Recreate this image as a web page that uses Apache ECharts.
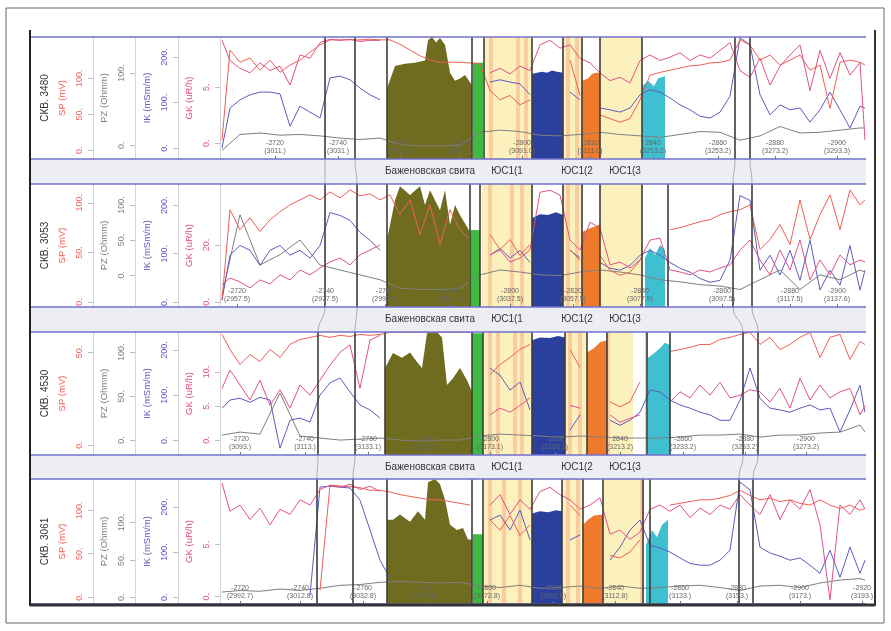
<!DOCTYPE html>
<html>
<head>
<meta charset="utf-8">
<script src="https://cdn.jsdelivr.net/npm/echarts@6/dist/echarts.min.js"></script>
<style>
html, body { margin: 0; padding: 0; background: #fff; }
#main { width: 891px; height: 631px; }
</style>
</head>
<body>
<div id="main"></div>
<script>
// wells, top to bottom
const wells = ['СКВ. 3480', 'СКВ. 3053', 'СКВ. 4530', 'СКВ. 3061'];

// sample positions along the correlation track (track units from the left edge)
const posFine = [2,10,20,30,40,50,60,70,80,90,100,110,120,130,140,150,160,170,180,190,200,210,220,230,240,250,260,270,280,290,300,310,320,330,340,350,360,370,380,390,400,410,420,430,440,450,460,470,480,490,500,510,520,530,540,550,560,570,580,590,600,610,620,630,640,645];
const posCoarse = [2,20,40,60,80,100,120,140,160,180,200,220,240,260,280,300,320,340,360,380,400,420,440,460,480,500,520,540,560,580,600,620,640,645];

// ---- СКВ. 3480
const gk3480 = [9.2,7.4,6.7,6.3,7.2,6.5,6.9,5.2,7.9,7.6,9.0,9.3,9.2,9.3,9.1,9.2,9.2,null,null,null,null,null,null,null,null,null,null,6.3,6.7,6.2,6.9,6.5,8.8,9.2,8.5,8.8,7.6,7.2,6.3,5.6,5.9,5.4,7.4,7.9,7.4,7.7,8.1,7.4,7.9,7.6,8.3,9.0,6.5,5.9,7.6,5.2,6.9,7.9,8.8,4.7,8.3,5.8,8.1,6.1,7.2,0.3];
const sp3480 = [14,139,122,128,111,125,108,118,125,136,146,153,153,153,153,154,153,153,147,139,131,125,122,122,122,121,120,83,70,76,63,70,null,null,null,125,76,null,49,44,39,44,70,104,108,111,114,117,118,121,122,125,153,146,125,132,118,125,132,111,118,58,122,125,122,118];
const ik3480 = [0,88,106,117,123,123,119,48,92,79,66,154,158,150,132,117,106,null,null,null,null,null,null,null,null,null,null,145,150,145,141,117,null,null,null,123,106,null,88,84,79,88,117,128,123,110,95,84,70,66,79,114,242,227,117,73,95,84,88,57,84,123,84,44,92,88];
const pz3480 = [-7,15,17,14,15,13,10,8,10,1,-1,-1,0,18,21,19,14,13,15,18,15,13,11,15,19,18,7,13,26,17,18,21,24,24];

// ---- СКВ. 3053
const gk3053 = [6,8.4,7,4.9,7.7,6.3,9.5,7.7,11.2,9.5,11.9,14,15.4,13,16.5,18.2,20,null,null,null,null,null,null,null,null,null,null,16.5,18.2,14,15.4,18.2,38.5,39.2,37.5,21.7,18.2,28,25.9,13,14,11.9,14.7,21.7,22.4,11.2,10.5,9.5,11.2,10.5,11.9,13,18.2,21.7,14.7,9.5,18.2,11.2,21.7,7.7,14.7,9.5,16.5,13,14.7,14];
const sp3053 = [2,93,73,85,71,83,91,98,103,108,103,111,105,113,107,109,103,108,88,103,68,98,58,93,73,63,null,68,53,63,47,58,null,null,null,53,42,null,47,32,27,30,42,null,null,73,75,78,81,83,88,91,93,98,53,63,78,58,103,63,88,108,73,113,98,103];
const ik3053 = [4,97,117,107,76,107,117,97,107,91,117,185,179,169,144,128,107,null,null,null,null,null,null,null,null,null,null,97,111,91,107,82,null,null,null,107,91,null,82,70,66,76,97,107,97,82,70,62,49,41,45,87,220,210,66,97,56,107,45,128,25,66,35,117,25,66];
const pz3053 = [-29,86,14,29,50,14,7,0,-7,-19,-21,-21,-19,0,7,4,0,-1,4,7,4,0,-7,-10,-14,-16,-21,-7,7,-21,0,-7,7,4];

// ---- СКВ. 4530
const gk4530 = [7.6,10.3,8.1,5.9,8.8,5.1,7.4,4.7,8.1,6.6,8.8,11,12.9,14,7.6,14.7,15.4,null,null,null,null,null,null,null,null,null,null,3.7,4.7,4.1,5.1,6.2,null,null,null,5.1,4.7,null,null,3.7,2.6,3.2,3.7,null,null,5.6,7.1,6.2,8.1,6.6,8.5,6.2,6.6,7.4,7.1,5.6,7.6,4.7,9.1,5.9,8.1,6.2,7.1,7.6,3.7,5.1];
const sp4530 = [59.4,51.3,43.2,48.6,44.8,51.3,47,54,56.7,57.8,58.9,57.8,58.9,58.3,59.4,58.9,59.4,60.5,60.5,60.5,60.5,60.5,60.5,60.5,60.5,60.5,null,37.8,43.2,47,51.3,54,null,null,null,51.3,41.6,null,null,23.2,20.5,23.2,34,null,null,50.2,51.3,52.4,54,54,56.7,57.8,59.4,60.5,54,57.8,51.3,54,57.8,60.5,47,57.8,59.4,45.9,55.6,54];
const ik4530 = [71,89,93,84,95,89,-18,44,49,40,100,127,138,107,78,67,49,null,null,null,null,null,null,null,null,null,null,160,144,111,129,67,null,null,null,22,56,null,null,44,33,44,62,111,107,89,78,71,62,56,44,44,89,160,93,71,67,62,71,78,67,71,18,67,122,62];
const pz4530 = [5.7,9.1,6.8,53.6,4.6,2.3,0,1.1,2.3,0,-1.1,0,0,4.6,6.8,5.7,4.6,3.4,4.6,3.4,2.3,2.3,2.3,3.4,5.7,5.7,6.8,3.4,5.7,5.7,8,9.1,17.1,9.1];

// ---- СКВ. 3061
const gk3061 = [10.9,8.2,8.8,7.4,8.5,6.9,8.4,7.9,9.3,8.8,10.3,10.7,10.5,10.8,10.3,10.6,10.1,null,null,null,null,null,null,null,null,null,null,8.8,9.8,7.9,9.3,8.4,10.1,10.5,9.8,9.3,8.4,8.8,9.5,6,6.4,5.5,6.2,8.4,8.8,8.2,8.8,7.6,8.5,7.9,8.8,8.4,9.8,8.8,7.9,9.8,7.4,9.3,8.4,10.3,6.9,-0.3,8.8,7.9,9.3,8.4];
const sp3061 = [null,null,null,null,null,null,null,null,null,null,8,129,128,127,126,123,123,121,118,116,114,112,112,110,108,106,null,89,77,94,71,83,null,null,null,106,94,null,null,48,45,52,66,null,null,106,108,110,112,112,114,117,123,117,112,114,110,112,108,106,112,106,102,106,100,102];
const ik3061 = [null,null,null,null,null,null,null,null,null,4,244,246,244,242,215,149,82,42,null,null,null,null,null,null,null,null,null,171,182,149,193,127,null,null,null,127,138,null,null,82,111,149,171,115,109,100,87,75,71,71,82,104,255,238,111,98,91,82,87,71,53,104,44,111,53,82];
const pz3061 = [7,9,8,11,9,12,16,17,20,21,20,19,20,15,13,16,12,13,15,12,15,12,13,15,16,13,9,15,16,13,19,23,25,23];

const gkLogs = [gk3480, gk3053, gk4530, gk3061];
const spLogs = [sp3480, sp3053, sp4530, sp3061];
const ikLogs = [ik3480, ik3053, ik4530, ik3061];
const pzLogs = [pz3480, pz3053, pz4530, pz3061];

// lithology fills (GK units) per zone: [track position, value]
const oliveFill = [
  [[167,4.9],[175,6.9],[185,7.1],[195,7.2],[205,7.4],[208,9.2],[212,9.5],[216,9.0],[220,9.4],[225,8.8],[230,6.3],[235,5.6],[240,5.8],[245,6.1],[252,5.2]],
  [[167,21.7],[175,35.7],[180,40.6],[190,37.5],[200,40.6],[205,34],[210,39.2],[220,32.2],[225,39.2],[230,27],[235,34],[240,30.5],[249,25.2]],
  [[165,10.6],[173,12.8],[182,12.1],[190,12.9],[197,11.5],[202,10.6],[207,15.7],[217,15.9],[222,15.1],[227,8.1],[233,9.1],[240,10.6],[247,8.8],[252,7.1]],
  [[167,7.4],[173,7.4],[180,7.9],[190,7.2],[198,8.2],[205,7.4],[208,11],[215,11.3],[220,10.8],[225,9.3],[230,6.9],[237,6.4],[243,6.6],[248,5.5],[252,5.5]]
];
const greenFill = [
  [[253,7.2],[263,7.2]], [[250,25.2],[260,25.2]], [[252,15.7],[263,15.7]], [[253,6],[263,6]]
];
const blueFill = [
  [[312,6.2],[317,6.3],[322,6.4],[327,6.3],[332,6.5],[337,6.4],[343,6.3]],
  [[312,29.4],[320,30.8],[328,30.5],[336,31.5],[343,30.5]],
  [[312,14.7],[320,15.1],[330,15],[338,15.3],[345,15.1]],
  [[312,8],[320,8.2],[328,8.1],[336,8.3],[342,8.2]]
];
const orangeFill = [
  [[362,5.6],[368,5.8],[372,6.2],[376,6.3],[380,6.3]],
  [[362,24.5],[370,25.9],[376,26.6],[380,27.3]],
  [[367,12.9],[374,13.5],[380,14.4],[387,14.7]],
  [[363,6.9],[368,7.4],[374,7.8],[383,7.9]]
];
const cyanFill = [
  [[422,5.1],[428,5.6],[434,5.1],[438,5.8],[445,6.0]],
  [[425,15.4],[430,18.9],[435,16.5],[440,20],[445,18.2]],
  [[428,12.1],[435,12.9],[440,13.5],[445,14.3],[450,14]],
  [[426,5],[432,6.4],[437,5.7],[442,6.9],[448,7.4]]
];

// horizon boundaries and interlayer bands
const boundaries = [
  [105,135,167,252,264,312,343,362,380,422,515,530],
  [105,137,167,250,260,312,343,362,380,422,448,513,532],
  [98,135,165,252,263,312,345,367,387,427,450,523,538],
  [97,133,167,252,263,312,342,363,383,423,430,519,533]
];
const yellowZones = [
  [[264,312],[343,362],[380,422]],
  [[262,312],[343,362],[380,422]],
  [[263,312],[345,367],[390,413]],
  [[263,312],[342,363],[383,423]]
];
const orangeZones = [
  [[269,273],[296,300],[304,308],[346,350],[355,359]],
  [[268,272],[290,294],[300,304],[346,350],[355,359]],
  [[268,272],[276,280],[293,297],[300,304],[348,352],[358,362],[386,390],[425,428]],
  [[268,272],[282,286],[298,302],[346,350],[356,360],[420,424]]
];
const zoneNames = ['Баженовская свита', 'ЮС1(1', 'ЮС1(2', 'ЮС1(3'];
const zoneLabelPos = [210, 287, 357, 405];

// depth ticks: absolute depth and (measured depth)
const depthPos = [
  [55,118,180,240,302,370,433,498,555,617],
  [17,105,165,230,290,353,420,502,570,617],
  [20,85,148,205,270,335,400,463,525,586],
  [20,80,143,205,267,333,395,460,517,580,642]
];
const depthLabels = [
  ['-2720\n(3011.)','-2740\n(3031.)','-2760\n(3051.0)','-2780\n(3071.0)','-2800\n(3091.0)','-2820\n(3111.0)','2840\n(3213.2)','-2860\n(3253.2)','-2880\n(3273.2)','-2900\n(3293.3)'],
  ['-2720\n(2957.5)','-2740\n(2977.5)','-2760\n(2997.5)','-2780\n(3017.5)','-2800\n(3037.5)','-2820\n(3057.5)','-2840\n(3077.5)','-2860\n(3097.5)','-2880\n(3117.5)','-2900\n(3137.6)'],
  ['-2720\n(3093.)','-2740\n(3113.)','-2760\n(3133.1)','-2780\n(3153.1)','-2800\n(3173.1)','-2820\n(3193.1)','2840\n(3213.2)','-2860\n(3233.2)','-2880\n(3253.2)','-2900\n(3273.2)'],
  ['-2720\n(2992.7)','-2740\n(3012.8)','-2760\n(3032.8)','-2780\n(3052.8)','-2800\n(3072.8)','-2820\n(3092.8)','-2840\n(3112.8)','-2860\n(3133.)','-2880\n(3153.)','-2900\n(3173.)','-2920\n(3193.)']
];

// curve scales per well
const spRange = [[-12,157],[-5,119],[-5.4,60.7],[-8,136]];
const pzRange = [[-19,150],[-46,130],[-17,123],[-9,158]];
const ikRange = [[-24,244],[-10,244],[-33,240],[-15,262]];
const gkRange = [[-1.4,9.5],[-1.8,41.4],[-2.2,15.9],[-0.7,11.3]];
const spTicks = [[0,50,100],[0,50,100],[0,50],[0,50,100]];
const pzTicks = [[0,100],[0,50,100],[0,50,100],[0,50,100]];
const ikTicks = [[0,100,200],[0,100,200],[0,100,200],[0,100,200]];
const gkTicks = [[0,5],[0,20],[0,5,10],[0,5]];

// layout
const panelTop = [37, 184, 332, 479];
const panelHeight = [122, 123, 123, 125];
const trackLeft = 220, trackRight = 866, frameLeft = 30, frameRight = 875;
const fontFamily = 'Liberation Sans, Arial, sans-serif';

const colors = { sp: '#ef5f55', pz: '#808080', ik: '#5c5cbf', gk: '#e2508a', well: '#333' };
const fillColors = { olive: '#6f6c1f', green: '#3dba3f', blue: '#2b3f9c', orange: '#f07a2c', cyan: '#3fc0d0' };

const chart = echarts.init(document.getElementById('main'));

const zip = (xs, vs) => xs.map((x, k) => [x, vs[k]]);

function curveAxis(i, off, name, color, range, ticks) {
  return {
    gridIndex: i, type: 'value', position: 'left', offset: off,
    min: range[0], max: range[1],
    name: name, nameLocation: 'middle', nameGap: 24,
    nameTextStyle: { color: color, fontSize: 9.5 },
    axisLine: { show: true, lineStyle: { color: '#d4d4d4' } },
    axisTick: { show: true, customValues: ticks, length: 5, lineStyle: { color: '#bdbdbd' } },
    axisLabel: { customValues: ticks, rotate: 90, color: color, fontSize: 9, margin: 9,
      formatter: v => v + '.' },
    splitLine: { show: false }
  };
}

const grids = [], xAxes = [], yAxes = [], series = [];
for (let i = 0; i < 4; i++) {
  grids.push({ left: trackLeft, width: trackRight - trackLeft, top: panelTop[i], height: panelHeight[i] });
  const labelMap = {};
  depthPos[i].forEach((p, k) => { labelMap[p] = depthLabels[i][k]; });
  xAxes.push({
    gridIndex: i, type: 'value', min: 0, max: trackRight - trackLeft, z: 10,
    axisLine: { show: false },
    splitLine: { show: false },
    axisTick: { show: true, inside: true, length: 3, customValues: depthPos[i], lineStyle: { color: '#777' } },
    axisLabel: { inside: true, customValues: depthPos[i], fontSize: 7, color: '#666', lineHeight: 8, margin: 4,
      formatter: v => labelMap[v] || '' }
  });
  yAxes.push({
    gridIndex: i, type: 'value', position: 'left', offset: trackLeft - 52, min: 0, max: 1,
    name: wells[i], nameLocation: 'middle', nameGap: 2,
    nameTextStyle: { color: colors.well, fontSize: 10 },
    axisLine: { show: true, lineStyle: { color: '#d4d4d4' } },
    axisTick: { show: false }, axisLabel: { show: false }, splitLine: { show: false }
  });
  yAxes.push(curveAxis(i, trackLeft - 93, 'SP (mV)', colors.sp, spRange[i], spTicks[i]));
  yAxes.push(curveAxis(i, trackLeft - 135, 'PZ (Ohmm)', colors.pz, pzRange[i], pzTicks[i]));
  yAxes.push(curveAxis(i, trackLeft - 178, 'IK (mSm/m)', colors.ik, ikRange[i], ikTicks[i]));
  yAxes.push(curveAxis(i, 0, 'GK (uR/h)', colors.gk, gkRange[i], gkTicks[i]));

  const yi = 5 * i;
  // interlayer bands
  series.push({
    type: 'line', xAxisIndex: i, yAxisIndex: yi + 4, data: [], z: 1, silent: true,
    markArea: { silent: true, itemStyle: { color: '#fcf1bd' },
      data: yellowZones[i].map(z => [{ xAxis: z[0] }, { xAxis: z[1] }]) }
  });
  series.push({
    type: 'line', xAxisIndex: i, yAxisIndex: yi + 4, data: [], z: 1, silent: true,
    markArea: { silent: true, itemStyle: { color: '#f8c79a', opacity: 0.85 },
      data: orangeZones[i].map(z => [{ xAxis: z[0] }, { xAxis: z[1] }]) }
  });
  // lithology fills
  [['olive', oliveFill], ['green', greenFill], ['blue', blueFill], ['orange', orangeFill], ['cyan', cyanFill]].forEach(f => {
    series.push({
      type: 'line', xAxisIndex: i, yAxisIndex: yi + 4, data: f[1][i], z: 2, silent: true,
      symbol: 'none', lineStyle: { width: 0 },
      areaStyle: { color: fillColors[f[0]], opacity: 1, origin: 'start' }
    });
  });
  // log curves
  const curves = [
    [pzLogs[i], posCoarse, yi + 2, colors.pz],
    [ikLogs[i], posFine, yi + 3, colors.ik],
    [spLogs[i], posFine, yi + 1, colors.sp],
    [gkLogs[i], posFine, yi + 4, colors.gk]
  ];
  curves.forEach(c => {
    series.push({
      type: 'line', xAxisIndex: i, yAxisIndex: c[2], data: zip(c[1], c[0]), z: 3, silent: true,
      symbol: 'none', connectNulls: false, lineStyle: { width: 1, color: c[3] }
    });
  });
  // horizon boundaries
  series.push({
    type: 'line', xAxisIndex: i, yAxisIndex: yi + 4, data: [], z: 4, silent: true,
    markLine: { silent: true, symbol: ['none', 'none'], label: { show: false },
      lineStyle: { color: '#3c3c3c', width: 1.6, type: 'solid' },
      data: boundaries[i].map(b => ({ xAxis: b })) }
  });
}

const option = {
  animation: false,
  backgroundColor: '#fff',
  textStyle: { fontFamily: fontFamily },
  grid: grids, xAxis: xAxes, yAxis: yAxes, series: series
};
chart.setOption(option);

// frame, panel borders, interval strips and correlation lines
const graphics = [];
graphics.push({ type: 'rect', shape: { x: 6, y: 8, width: 878, height: 615 }, style: { fill: 'none', stroke: '#666', lineWidth: 1 } });
for (let i = 0; i < 3; i++) {
  const y0 = panelTop[i] + panelHeight[i], y1 = panelTop[i + 1];
  graphics.push({ type: 'rect', shape: { x: frameLeft, y: y0, width: trackRight - frameLeft, height: y1 - y0 }, style: { fill: '#eceef4' } });
  const px = v => chart.convertToPixel({ xAxisIndex: i }, v);
  zoneLabelPos.forEach((c, k) => {
    graphics.push({ type: 'text', x: px(c), y: (y0 + y1) / 2,
      style: { text: zoneNames[k], fill: '#333', fontSize: 10, align: 'center', verticalAlign: 'middle', fontFamily: fontFamily } });
  });
  const b = boundaries[i], bn = boundaries[i + 1];
  [[0, 0], [1, 1], [b.length - 2, bn.length - 2], [b.length - 1, bn.length - 1]].forEach(pair => {
    const xa = px(b[pair[0]]);
    const xb = chart.convertToPixel({ xAxisIndex: i + 1 }, bn[pair[1]]);
    graphics.push({ type: 'bezierCurve', shape: { x1: xa, y1: y0, x2: xb, y2: y1, cpx1: xa, cpy1: (y0 + y1) / 2, cpx2: xb, cpy2: (y0 + y1) / 2 },
      style: { stroke: '#9a9a9a', lineWidth: 0.8, fill: 'none' } });
  });
}
for (let i = 0; i < 4; i++) {
  [panelTop[i], panelTop[i] + panelHeight[i]].forEach(y => {
    graphics.push({ type: 'line', shape: { x1: frameLeft, y1: y, x2: trackRight, y2: y }, style: { stroke: '#7070cc', lineWidth: 1.5 }, z: 50 });
  });
}
graphics.push({ type: 'line', shape: { x1: frameLeft, y1: 30, x2: frameLeft, y2: 606 }, style: { stroke: '#222', lineWidth: 2 }, z: 60 });
graphics.push({ type: 'line', shape: { x1: frameRight, y1: 30, x2: frameRight, y2: 606 }, style: { stroke: '#333', lineWidth: 2 }, z: 60 });
graphics.push({ type: 'line', shape: { x1: frameLeft, y1: 605, x2: frameRight, y2: 605 }, style: { stroke: '#333', lineWidth: 3 }, z: 60 });

chart.setOption({ graphic: graphics });
</script>
</body>
</html>
